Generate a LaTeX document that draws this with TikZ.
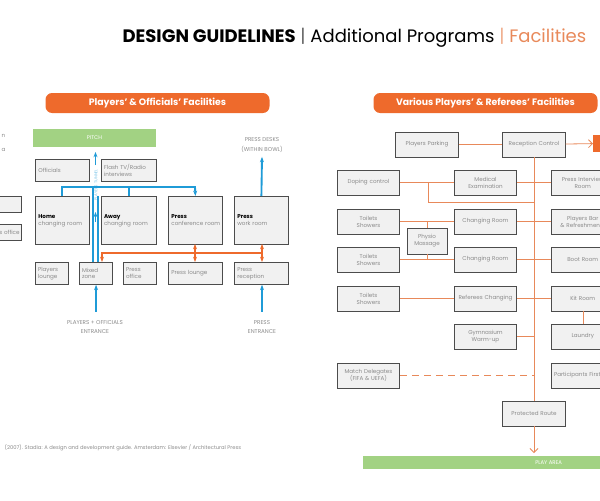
\documentclass[tikz,border=0pt]{standalone}
\usepackage{fontspec}
\setmainfont{Poppins}
\usetikzlibrary{arrows.meta}
\definecolor{org}{HTML}{EE6A2C}
\definecolor{lor}{HTML}{E8895A}
\definecolor{blu}{HTML}{1F9BD7}
\definecolor{grn}{HTML}{A2D283}
\definecolor{bx}{HTML}{F1F1F1}
\definecolor{txt}{HTML}{8A8A8A}
\tikzset{
 box/.style={draw=black!70,line width=0.6pt,fill=bx,inner sep=1pt,text=txt,font=\fontsize{4.2}{5.2}\selectfont,align=center},
 lbox/.style={draw=black!70,line width=0.6pt,fill=bx,inner sep=2pt,text=txt,font=\fontsize{4.2}{5.2}\selectfont,align=left,anchor=north west},
 banner/.style={fill=org,rounded corners=5pt,text=white,font=\bfseries\fontsize{7}{8}\selectfont},
 bl/.style={draw=blu,line width=1.4pt},
 ol/.style={draw=org,line width=1.2pt},
 rl/.style={draw=lor,line width=0.6pt},
 lab/.style={text=txt,font=\fontsize{4.2}{7}\selectfont,align=center},
}
\begin{document}
\begin{tikzpicture}[x=0.75pt,y=-0.75pt]
\useasboundingbox (0,0) rectangle (600,500);
\clip (0,0) rectangle (600,500);
% title
\node[anchor=base east,font=\fontsize{13.5}{16}\selectfont] (title) at (591,42) {\textbf{DESIGN GUIDELINES} {\color{black!60}|} Additional Programs {\color{lor!70}|} {\color{lor}Facilities}};
\node[anchor=base west,text=txt,font=\fontsize{3.9}{5}\selectfont] (foot) at (0,449) {(2007). Stadia: A design and development guide. Amsterdam: Elsevier / Architectural Press};

% ===== LEFT PANEL =====
\node[banner,minimum width=168pt,minimum height=15pt] (b1) at (157.5,103) {Players’ \& Officials’ Facilities};
\node[fill=grn,minimum width=92pt,minimum height=13.5pt,text=white,font=\fontsize{4}{5}\selectfont] (pitch1) at (94.5,138) {PITCH};
% left fragments
\node[lab,anchor=west] (fr1) at (-3,136) {n};
\node[lab,anchor=west] (fr2) at (-3,150) {a};
\node[box,minimum width=45pt,minimum height=12pt,anchor=north east] (fb1) at (22,196) {};
\node[box,minimum width=45pt,minimum height=12pt,anchor=north east,text width=42pt,align=right] (fb2) at (22,224) {s office};

\node[lbox,minimum width=40.5pt,minimum height=16.5pt,text width=36pt] (off) at (35,159) {Officials};
\node[lbox,minimum width=41pt,minimum height=16.5pt,text width=37pt] (flash) at (101,159) {Flash TV/Radio\\interviews};
\node[lbox,minimum width=40.5pt,minimum height=36pt,text width=36pt] (home) at (35,196) {{\color{black}\bfseries Home}\\changing room};
\node[lbox,minimum width=41pt,minimum height=36pt,text width=37pt] (away) at (101,196) {{\color{black}\bfseries Away}\\changing room};
\node[lbox,minimum width=40.5pt,minimum height=36pt,text width=36pt] (pconf) at (168,196) {{\color{black}\bfseries Press}\\\makebox[0pt][l]{conference room}};
\node[lbox,minimum width=40.5pt,minimum height=36pt,text width=36pt] (pwork) at (234,196) {{\color{black}\bfseries Press}\\work room};
\node[lbox,minimum width=24.75pt,minimum height=16.5pt,text width=21pt] (plou) at (35,262) {Players\\lounge};
\node[lbox,minimum width=24.75pt,minimum height=16.5pt,text width=21pt] (mixed) at (79,262) {Mixed\\zone};
\node[lbox,minimum width=24.75pt,minimum height=16.5pt,text width=21pt] (poff) at (123,262) {Press\\office};
\node[lbox,minimum width=40.5pt,minimum height=16.5pt,text width=36pt] (plnge) at (168,262) {Press lounge};
\node[lbox,minimum width=40.5pt,minimum height=16.5pt,text width=36pt] (prec) at (234,262) {Press\\reception};

\node[lab] (ent1) at (95,327) {PLAYERS + OFFICIALS\\ENTRANCE};
\node[lab] (ent2) at (262,327) {PRESS\\ENTRANCE};
\node[lab] (desks) at (262,145) {PRESS DESKS\\(WITHIN BOWL)};
\node[text=blu!60,font=\fontsize{3}{4}\selectfont,rotate=90] (tun) at (96,185) {PLAYERS TUNNEL};

\coordinate (mzA) at (93,262); \coordinate (mzB) at (98,262);
% blue
\draw[bl,-{Stealth[length=4pt]}] (ent1.north -| mixed) ++(0,-4) coordinate (e1) -- (e1 |- mixed.south);
\draw[bl,-{Stealth[length=4pt]}] (ent2.north) ++(0,-4) coordinate (e2) -- (e2 |- prec.south);
\draw[bl,-{Stealth[length=4pt]}] (pwork.north) -- (desks.south);
\draw[bl] (mzA) -- (93,187) -- (62,187) -- (62,196);
\draw[bl] (mzB) -- (98,196);
\draw[bl] (93,187) -- (129,187) -- (129,196);
\draw[bl,-{Stealth[length=4pt]}] (129,187) -- (195,187) -- (pconf.north);
\draw[draw=blu,line width=1pt,-{Stealth[length=4pt]}] (95.5,222) -- (95.5,212);
\draw[draw=blu,line width=1pt,-{Stealth[length=4pt]}] (95.5,165) -- (95.5,152);
% orange
\draw[ol,-{Stealth[length=4pt]}] (262,253) -- (102,253) -- (102,262);
\draw[ol,{Stealth[length=4pt]}-{Stealth[length=4pt]}] (195,244) -- (195,262);
\draw[ol,{Stealth[length=4pt]}-{Stealth[length=4pt]}] (262,244) -- (262,262);

% ===== RIGHT PANEL =====
\node[banner,minimum width=168pt,minimum height=15pt] (b2) at (485.5,103) {Various Players’ \& Referees’ Facilities};
\node[fill=grn,minimum width=178pt,minimum height=9pt,anchor=north west,text=white,font=\fontsize{4}{5}\selectfont] (pitch2) at (363,456) {\hspace{100pt}PLAY AREA};
\tikzset{rb/.style={box,minimum width=47pt,minimum height=18.75pt,text width=44pt},
 rr/.style={rb,anchor=west}}
\node[rb] (park) at (427,144.5) {Players Parking};
\node[rb] (recep) at (534,144.5) {Reception Control};
\node[fill=org,minimum width=10pt,minimum height=12.75pt,anchor=west,inner sep=0] (ext) at (593,143.5) {};
\node[rb] (dop) at (368.5,182.5) {Doping control};
\node[rb] (med) at (485.5,182.5) {Medical\\Examination};
\node[rr] (pint) at (551,182.5) {Press Interview\\Room};
\node[rb] (ts1) at (368.5,221.5) {Toilets\\Showers};
\node[rb] (ch1) at (485.5,221.5) {Changing Room};
\node[rr] (pbar) at (551,221.5) {Players Bar\\\& Refreshments};
\node[rb] (ts2) at (368.5,259.5) {Toilets\\Showers};
\node[rb] (ch2) at (485.5,259.5) {Changing Room};
\node[rr] (boot) at (551,259.5) {Boot Room};
\node[rb] (ts3) at (368.5,298.5) {Toilets\\Showers};
\node[rb] (ref) at (485.5,298.5) {Referees Changing};
\node[rr] (kit) at (551,298.5) {Kit Room};
\node[rb] (gym) at (485.5,336.5) {Gymnasium\\Warm-up};
\node[rr] (laun) at (551,336.5) {Laundry};
\node[rb] (match) at (368.5,375.5) {Match Delegates\\(FIFA \& UEFA)};
\node[rr] (aid) at (551,375.5) {\makebox[0pt]{Participants First Aid}};
\node[rb] (prot) at (534,413.5) {Protected Route};
\node[box,minimum width=30pt,minimum height=19.5pt,text width=28pt] (phys) at (427,241) {Physio\\Massage};

\draw[rl] (park) -- (recep);
\draw[rl,-{Straight Barb[length=3pt]}] (recep) -- (ext);
\draw[rl] (recep.south) -- (prot.north);
\draw[rl,-{Straight Barb[length=3pt]}] (prot.south) -- (534,453);
\draw[rl] (dop) -- (med); \draw[rl] (med) -- (pint);
\draw[rl] (428,182.5) -- (428,202) -- (534,202);
\draw[rl] (ts1) -- (ch1); \draw[rl] (ch1) -- (pbar);
\draw[rl] (ts2) -- (ch2); \draw[rl] (ch2) -- (boot);
\draw[rl] (phys.north) -- (phys.north |- ts1);
\draw[rl] (phys.south) -- (phys.south |- ts2);
\draw[rl] (ts3) -- (ref); \draw[rl] (ref) -- (kit);
\draw[rl] (gym.east) -- (gym.east -| recep);
\draw[rl] (kit.south -| 583,0) -- (laun.north -| 583,0);
\draw[rl,dashed,dash pattern=on 5pt off 4pt,line width=0.8pt] (match.east) -- (match.east -| recep);
\end{tikzpicture}
\end{document}
